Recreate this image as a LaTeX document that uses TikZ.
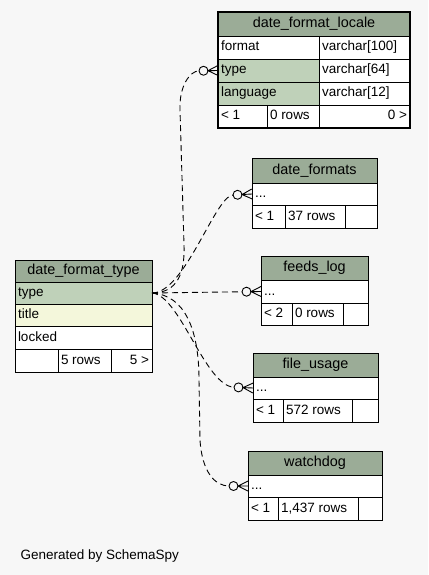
\documentclass[tikz,border=0pt]{standalone}
\usepackage{fontspec}
\setmainfont{Liberation Sans}
\usepackage{tikz}
\definecolor{pagegray}{RGB}{247,247,247}
\definecolor{headgreen}{RGB}{155,172,151}
\definecolor{keygreen}{RGB}{191,209,185}
\definecolor{attryellow}{RGB}{244,247,219}
\newcommand\tabfont{\fontsize{13.5}{16}\selectfont}
\newcommand\headfont{\fontsize{14.4}{16}\selectfont}

% zero-or-many end: open circle followed by a crow's foot
\pgfdeclarearrow{
  name = zeromany,
  setup code = {
    \pgfarrowssettipend{0pt}
    \pgfarrowssetlineend{-19pt}
    \pgfarrowssetbackend{-19pt}
    \pgfarrowshullpoint{0pt}{5pt}
    \pgfarrowshullpoint{0pt}{-5pt}
    \pgfarrowshullpoint{-19pt}{4.5pt}
    \pgfarrowshullpoint{-19pt}{-4.5pt}
  },
  drawing code = {
    \pgfsetdash{}{0pt}
    \pgfsetlinewidth{0.9pt}
    \pgfpathmoveto{\pgfpoint{0pt}{5pt}}
    \pgfpathlineto{\pgfpoint{-10pt}{0pt}}
    \pgfpathlineto{\pgfpoint{0pt}{-5pt}}
    \pgfpathmoveto{\pgfpoint{-10pt}{0pt}}
    \pgfpathlineto{\pgfpoint{0pt}{0pt}}
    \pgfusepathqstroke
    \pgfpathcircle{\pgfpoint{-14.5pt}{0pt}}{4.5pt}
    \pgfusepathqstroke
  }
}

% one table cell: name, x, y, width, height, align, fill, text
\newcommand\tcell[8]{%
  \node[cell, fill=#7, minimum height=#5pt] (#1) at (#2,#3)
    {\makebox[\dimexpr#4pt-6pt\relax][#6]{#8}};}

\begin{document}
\begin{tikzpicture}[x=1pt, y=-1pt,
  cell/.style={draw, line width=0.8pt, anchor=north west, inner xsep=3pt,
    inner ysep=0pt, outer sep=0pt, text height=10pt, text depth=3pt,
    font=\tabfont},
  rel/.style={line width=0.9pt, dash pattern=on 6pt off 4pt, -zeromany}]
\useasboundingbox[fill=pagegray] (0,0) rectangle (428,575);

% date_format_locale
\tcell{dfl-head}{218}{12}{192}{24}{c}{headgreen}{\headfont date\_format\_locale}
\tcell{dfl-format}{218}{36}{101}{23}{l}{white}{format}
\tcell{dfl-format-t}{319}{36}{91}{23}{l}{white}{varchar[100]}
\tcell{dfl-type}{218}{59}{101}{23}{l}{keygreen}{type}
\tcell{dfl-type-t}{319}{59}{91}{23}{l}{white}{varchar[64]}
\tcell{dfl-language}{218}{82}{101}{23}{l}{keygreen}{language}
\tcell{dfl-language-t}{319}{82}{91}{23}{l}{white}{varchar[12]}
\tcell{dfl-foot1}{218}{105}{49}{23}{l}{white}{< 1}
\tcell{dfl-foot2}{267}{105}{52}{23}{l}{white}{0 rows}
\tcell{dfl-foot3}{319}{105}{91}{23}{r}{white}{0 >}
\draw[line width=2.5pt] (dfl-head.north west) rectangle (dfl-foot3.south east);

% date_formats
\tcell{dfs-head}{252}{158}{125}{25}{c}{headgreen}{\headfont date\_formats}
\tcell{dfs-row}{252}{183}{125}{22}{l}{white}{...}
\tcell{dfs-foot1}{252}{205}{33}{23}{l}{white}{< 1}
\tcell{dfs-foot2}{285}{205}{60}{23}{l}{white}{37 rows}
\tcell{dfs-foot3}{345}{205}{32}{23}{r}{white}{}

% feeds_log
\tcell{fl-head}{261}{256}{107}{24}{c}{headgreen}{\headfont feeds\_log}
\tcell{fl-row}{261}{280}{107}{23}{l}{white}{...}
\tcell{fl-foot1}{261}{303}{31}{22}{l}{white}{< 2}
\tcell{fl-foot2}{292}{303}{51}{22}{l}{white}{0 rows}
\tcell{fl-foot3}{343}{303}{25}{22}{r}{white}{}

% file_usage
\tcell{fu-head}{253}{353}{125}{24}{c}{headgreen}{\headfont file\_usage}
\tcell{fu-row}{253}{377}{125}{22}{l}{white}{...}
\tcell{fu-foot1}{253}{399}{30}{23}{l}{white}{< 1}
\tcell{fu-foot2}{283}{399}{69}{23}{l}{white}{572 rows}
\tcell{fu-foot3}{352}{399}{26}{23}{r}{white}{}

% watchdog
\tcell{wd-head}{248}{451}{134}{24}{c}{headgreen}{\headfont watchdog}
\tcell{wd-row}{248}{475}{134}{22}{l}{white}{...}
\tcell{wd-foot1}{248}{497}{30}{23}{l}{white}{< 1}
\tcell{wd-foot2}{278}{497}{80}{23}{l}{white}{1,437 rows}
\tcell{wd-foot3}{358}{497}{24}{23}{r}{white}{}

% date_format_type
\tcell{dft-head}{15}{260}{137}{22}{c}{headgreen}{\headfont date\_format\_type}
\tcell{dft-type}{15}{282}{137}{22}{l}{keygreen}{type}
\tcell{dft-title}{15}{304}{137}{22}{l}{attryellow}{title}
\tcell{dft-locked}{15}{326}{137}{23}{l}{white}{locked}
\tcell{dft-foot1}{15}{349}{43}{23}{l}{white}{}
\tcell{dft-foot2}{58}{349}{53}{23}{l}{white}{5 rows}
\tcell{dft-foot3}{111}{349}{41}{23}{r}{white}{5 >}

% relationships
\draw[rel] (dft-type.east) .. controls (178,293) and (185,272) .. (184,245)
  -- (180,110) .. controls (179,86) and (190,71) .. (dfl-type.west);
\draw[rel] (dft-type.east) .. controls (185,293) and (215,196) .. (dfs-row.west);
\draw[rel] (dft-type.east) -- (fl-row.west);
\draw[rel] (dft-type.east) .. controls (180,295) and (205,386) .. (fu-row.west);
\draw[rel] (dft-type.east) .. controls (185,295) and (199,330) .. (199,380)
  -- (200,440) .. controls (202,472) and (215,486) .. (wd-row.west);

\node[anchor=base west, font=\tabfont] (credit) at (17,559) {Generated by SchemaSpy};
\end{tikzpicture}
\end{document}
